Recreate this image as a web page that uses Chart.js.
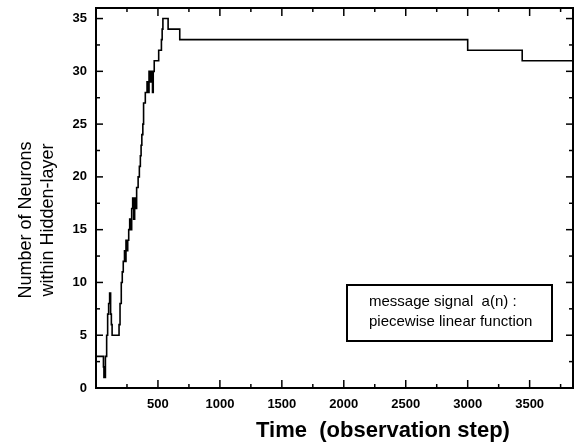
<!DOCTYPE html>
<html>
<head>
<meta charset="utf-8">
<style>
  html, body { margin: 0; padding: 0; background: #ffffff; }
  #wrap { width: 579px; height: 445px; }
</style>
<script src="https://cdn.jsdelivr.net/npm/chart.js@4.4.1/dist/chart.umd.min.js"></script>
</head>
<body>
<div id="wrap"><canvas id="chart" width="579" height="445"></canvas></div>
<script>
// Hidden-layer size over time (step curve: value holds from each time onward)
const timeSteps = [0, 60, 64, 76, 86, 94, 102, 110, 118, 124, 130, 186, 194, 204, 212, 220, 230, 236, 242, 250,
                   256, 264, 272, 280, 288, 296, 304, 312, 320, 328, 340, 350, 358, 364, 370, 378, 384, 398, 412, 420,
                   428, 440, 448, 456, 462, 470, 506, 528, 534, 540, 582, 676, 3000, 3440, 3850];
const neuronCounts = [3, 2, 1, 3, 5, 7, 8, 9, 7, 6, 5, 6, 8, 10, 11, 12, 13, 12, 14, 13,
                      14, 15, 16, 15, 17, 18, 16, 18, 17, 19, 20, 21, 22, 23, 24, 25, 27, 28, 29, 28,
                      30, 29, 30, 28, 30, 31, 32, 33, 34, 35, 34, 33, 32, 31, 31];

const xTickValues = [500, 1000, 1500, 2000, 2500, 3000, 3500];
const xMinorValues = [250, 750, 1250, 1750, 2250, 2750, 3250, 3750];
const yTickValues = [0, 5, 10, 15, 20, 25, 30, 35];
const yMinorValues = [2.5, 7.5, 12.5, 17.5, 22.5, 27.5, 32.5];

const xTitle = 'Time  (observation step)';
const yTitleLines = ['Number of Neurons', 'within Hidden-layer'];
const noteLines = ['message signal  a(n) :', 'piecewise linear function'];

const FONT = '"Liberation Sans", Arial, Helvetica, sans-serif';

const points = timeSteps.map((t, i) => ({ x: t, y: neuronCounts[i] }));

// Frame, inward ticks on all four sides, axis titles and the annotation box
const decorations = {
  id: 'decorations',
  afterDraw(chart) {
    const ctx = chart.ctx;
    const a = chart.chartArea;
    const xs = chart.scales.x, ys = chart.scales.y;
    ctx.save();
    ctx.strokeStyle = '#000';
    ctx.lineCap = 'butt';

    // ticks
    ctx.lineWidth = 1.5;
    const tick = (x1, y1, x2, y2) => { ctx.beginPath(); ctx.moveTo(x1, y1); ctx.lineTo(x2, y2); ctx.stroke(); };
    xTickValues.forEach(v => {
      const px = xs.getPixelForValue(v);
      tick(px, a.bottom, px, a.bottom - 8);
      tick(px, a.top, px, a.top + 8);
    });
    xMinorValues.forEach(v => {
      if (v > xs.max) return;
      const px = xs.getPixelForValue(v);
      tick(px, a.bottom, px, a.bottom - 4);
      tick(px, a.top, px, a.top + 4);
    });
    yTickValues.forEach(v => {
      const py = ys.getPixelForValue(v);
      tick(a.left, py, a.left + 7, py);
      tick(a.right, py, a.right - 7, py);
    });
    yMinorValues.forEach(v => {
      const py = ys.getPixelForValue(v);
      tick(a.left, py, a.left + 4, py);
      tick(a.right, py, a.right - 4, py);
    });

    // frame
    ctx.lineWidth = 2;
    ctx.strokeRect(a.left, a.top, a.right - a.left, a.bottom - a.top);

    // x title
    ctx.fillStyle = '#000';
    ctx.font = 'bold 22px ' + FONT;
    ctx.textAlign = 'center';
    ctx.textBaseline = 'alphabetic';
    ctx.fillText(xTitle, 383, 437);

    // y title (two rotated lines)
    ctx.font = '18px ' + FONT;
    ctx.save();
    ctx.translate(0, 220);
    ctx.rotate(-Math.PI / 2);
    ctx.textAlign = 'center';
    ctx.fillText(yTitleLines[0], 0, 31);
    ctx.fillText(yTitleLines[1], 0, 53);
    ctx.restore();

    // annotation box
    ctx.lineWidth = 2;
    ctx.strokeRect(347, 285, 205, 56);
    ctx.font = '15px ' + FONT;
    ctx.textAlign = 'left';
    ctx.fillText(noteLines[0], 369, 306);
    ctx.fillText(noteLines[1], 369, 326);
    ctx.restore();
  }
};

const noPad = s => { s.paddingTop = 0; s.paddingBottom = 0; s.paddingLeft = 0; s.paddingRight = 0; };

new Chart(document.getElementById('chart'), {
  type: 'line',
  data: {
    datasets: [{
      data: points,
      stepped: 'before',
      borderColor: '#000',
      borderWidth: 1.6,
      pointRadius: 0,
      fill: false
    }]
  },
  options: {
    responsive: false,
    animation: false,
    devicePixelRatio: 1,
    layout: { padding: { left: 0, top: 8, right: 6, bottom: 0 } },
    plugins: { legend: { display: false }, tooltip: { enabled: false } },
    scales: {
      x: {
        type: 'linear',
        min: 0,
        max: 3850,
        grid: { display: false, drawTicks: false },
        border: { display: false },
        afterBuildTicks: s => { s.ticks = xTickValues.map(v => ({ value: v })); },
        afterFit: s => { s.height = 57; noPad(s); },
        ticks: {
          color: '#000',
          font: { family: FONT, size: 13, weight: 'bold' },
          padding: 9,
          maxRotation: 0,
          autoSkip: false,
          callback: v => String(v)
        }
      },
      y: {
        type: 'linear',
        min: 0,
        max: 36,
        grid: { display: false, drawTicks: false },
        border: { display: false },
        afterBuildTicks: s => { s.ticks = yTickValues.map(v => ({ value: v })); },
        afterFit: s => { s.width = 96; noPad(s); },
        ticks: {
          color: '#000',
          font: { family: FONT, size: 13, weight: 'bold' },
          padding: 9,
          autoSkip: false,
          callback: v => String(v)
        }
      }
    }
  },
  plugins: [decorations]
});
</script>
</body>
</html>
